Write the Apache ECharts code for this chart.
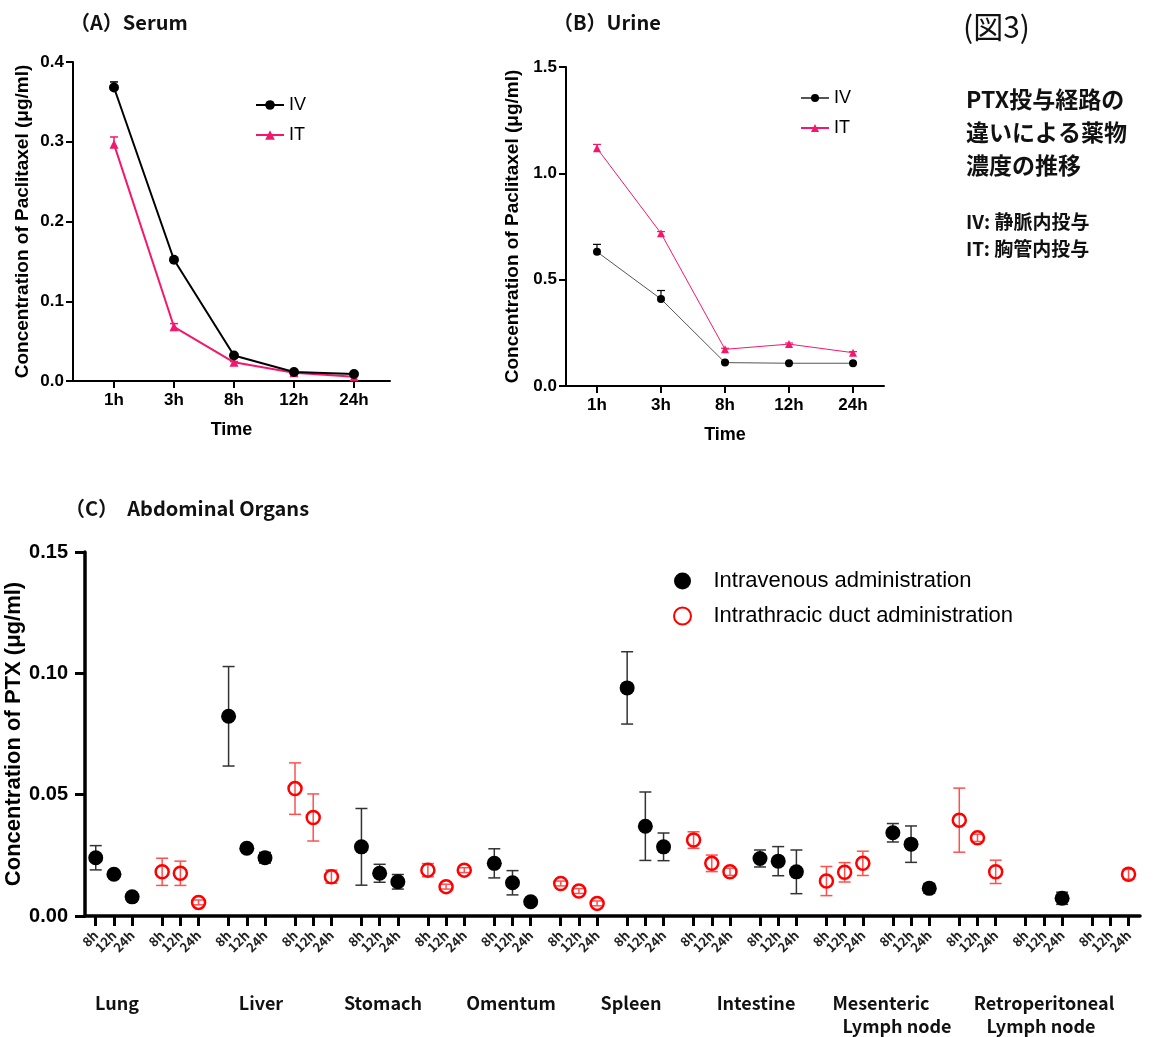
<!DOCTYPE html>
<html><head><meta charset="utf-8">
<script src="https://cdn.jsdelivr.net/npm/echarts@6/dist/echarts.min.js"></script>
<style>html,body{margin:0;padding:0;background:#fff}#c{width:1165px;height:1037px}</style>
</head><body><div id="c"></div>
<script>
// ---------- data ----------
const timesAB = ['1h','3h','8h','12h','24h'];
const serumIV    = [0.368, 0.152, 0.032, 0.0113, 0.0088];
const serumIVErr = [0.007, 0.002, 0.001, 0.001, 0.001];
const serumIT    = [0.297, 0.068, 0.0234, 0.0104, 0.0054];
const serumITErr = [0.009, 0.004, 0.001, 0.001, 0.001];
const urineIV    = [0.631, 0.409, 0.110, 0.107, 0.107];
const urineIVErr = [0.035, 0.040, 0.004, 0.003, 0.003];
const urineIT    = [1.118, 0.718, 0.1725, 0.197, 0.1566];
const urineITErr = [0.018, 0.008, 0.005, 0.005, 0.005];

const organs = ['Lung','Liver','Stomach','Omentum','Spleen','Intestine','Mesenteric Lymph node','Retroperitoneal Lymph node'];
const organTimes = ['8h','12h','24h'];
const ivMean = [
  [0.0240, 0.0172, 0.0079],
  [0.0823, 0.0279, 0.0240],
  [0.0285, 0.0176, 0.0141],
  [0.0217, 0.0137, 0.0059],
  [0.0940, 0.0370, 0.0285],
  [0.0237, 0.0226, 0.0182],
  [0.0343, 0.0296, 0.0114],
  [null, null, 0.0073]
];
const ivErr = [
  [0.0050, 0.0008, 0.0008],
  [0.0205, 0.0010, 0.0022],
  [0.0158, 0.0037, 0.0030],
  [0.0060, 0.0050, 0.0008],
  [0.0149, 0.0141, 0.0057],
  [0.0035, 0.0060, 0.0090],
  [0.0038, 0.0075, 0.0020],
  [null, null, 0.0025]
];
const itMean = [
  [0.0182, 0.0176, 0.0056],
  [0.0525, 0.0406, 0.0162],
  [0.0189, 0.0121, 0.0189],
  [0.0134, 0.0103, 0.0052],
  [0.0313, 0.0217, 0.0182],
  [0.0144, 0.0180, 0.0217],
  [0.0395, 0.0322, 0.0182],
  [null, null, 0.0172]
];
const itErr = [
  [0.0056, 0.0050, 0.0010],
  [0.0106, 0.0097, 0.0027],
  [0.0027, 0.0010, 0.0010],
  [0.0010, 0.0010, 0.0010],
  [0.0034, 0.0034, 0.0015],
  [0.0060, 0.0040, 0.0050],
  [0.0132, 0.0015, 0.0048],
  [null, null, 0.0020]
];

// ---------- helpers ----------
const SPAN = 3.65; // axis units between starts of neighbouring 3-tick groups
const tickPos = [], tickLab = [];
for (let g = 0; g < organs.length * 2; g++) {
  for (let t = 0; t < 3; t++) { tickPos.push(+(g * SPAN + t).toFixed(3)); tickLab.push(organTimes[t]); }
}
function organPoints(mean, err, route) {
  const pts = [], errs = [];
  mean.forEach((row, o) => row.forEach((v, t) => {
    if (v == null) return;
    const x = +((2 * o + route) * SPAN + t).toFixed(3);
    pts.push([x, v]);
    errs.push([x, v, err[o][t]]);
  }));
  return { pts, errs };
}
const ivC = organPoints(ivMean, ivErr, 0);
const itC = organPoints(itMean, itErr, 1);

const ab = arr => arr.map((v, i) => [i, v]);
const abErr = (arr, e) => arr.map((v, i) => [i, v, e[i]]);

function errRender(color, hw, lw, upperOnly) {
  return function (params, api) {
    const x = api.value(0), m = api.value(1), e = api.value(2);
    const top = api.coord([x, m + e]);
    const bot = api.coord([x, upperOnly ? m : m - e]);
    const st = { stroke: color, lineWidth: lw };
    const ch = [
      { type: 'line', shape: { x1: top[0], y1: top[1], x2: bot[0], y2: bot[1] }, style: st },
      { type: 'line', shape: { x1: top[0] - hw, y1: top[1], x2: top[0] + hw, y2: top[1] }, style: st }
    ];
    if (!upperOnly) ch.push({ type: 'line', shape: { x1: bot[0] - hw, y1: bot[1], x2: bot[0] + hw, y2: bot[1] }, style: st });
    return { type: 'group', children: ch };
  };
}

const LAT = 'Liberation Sans, Arial, sans-serif';
const JP = 'Noto Sans CJK JP, sans-serif';
const PINK = '#f5176c';

function abX(gi, minV, maxV) {
  return {
    type: 'value', gridIndex: gi, min: minV, max: maxV,
    name: 'Time', nameLocation: 'middle', nameGap: 40, nameMoveOverlap: false,
    nameTextStyle: { fontFamily: LAT, fontWeight: 'bold', fontSize: 18, color: '#000' },
    axisLine: { show: true, onZero: false, lineStyle: { color: '#000', width: 2 } },
    axisTick: { show: true, length: 7, lineStyle: { color: '#000', width: 2 }, customValues: [0,1,2,3,4] },
    axisLabel: { customValues: [0,1,2,3,4], showMinLabel: true, showMaxLabel: true, formatter: v => timesAB[Math.round(v)], fontFamily: LAT, fontWeight: 'bold', fontSize: 17, color: '#000', margin: 11 },
    splitLine: { show: false }
  };
}
function abY(gi, maxV, iv, dec, gap) {
  return {
    type: 'value', gridIndex: gi, min: 0, max: maxV, interval: iv,
    name: 'Concentration of Paclitaxel (μg/ml)', nameLocation: 'middle', nameGap: gap, nameMoveOverlap: false,
    nameTextStyle: { fontFamily: LAT, fontWeight: 'bold', fontSize: 19, color: '#000' },
    axisLine: { show: true, onZero: false, lineStyle: { color: '#000', width: 2 } },
    axisTick: { show: true, length: 7, lineStyle: { color: '#000', width: 2 } },
    axisLabel: { formatter: v => v.toFixed(dec), fontFamily: LAT, fontWeight: 'bold', fontSize: 17, color: '#000', margin: 9 },
    splitLine: { show: false }
  };
}

const texts = [
  { x: 70, y: 22, t: '（A）Serum', f: 'bold 20px ' + JP },
  { x: 553, y: 22, t: '（B）Urine', f: 'bold 20px ' + JP },
  { x: 65, y: 508, t: '（C）  Abdominal Organs', f: 'bold 20px ' + JP },
  { x: 963, y: 27, t: '(図3)', f: '30px ' + JP },
  { x: 966, y: 99, t: 'PTX投与経路の', f: 'bold 23px ' + JP },
  { x: 966, y: 132, t: '違いによる薬物', f: 'bold 23px ' + JP },
  { x: 966, y: 165, t: '濃度の推移', f: 'bold 23px ' + JP },
  { x: 966, y: 222, t: 'IV: 静脈内投与', f: 'bold 19px ' + JP },
  { x: 966, y: 249, t: 'IT: 胸管内投与', f: 'bold 19px ' + JP }
];
const organLabelPos = [
  [117, 1003, 'Lung'], [261, 1003, 'Liver'], [383, 1003, 'Stomach'], [511, 1003, 'Omentum'],
  [631, 1003, 'Spleen'], [756, 1003, 'Intestine'], [881, 1003, 'Mesenteric'], [897, 1026, 'Lymph node'],
  [1044, 1003, 'Retroperitoneal'], [1041, 1026, 'Lymph node']
];
const graphics = texts.map(o => ({
  type: 'text', x: o.x, y: o.y, silent: true,
  style: { text: o.t, font: o.f, fill: '#111', verticalAlign: 'middle' }
}));
organLabelPos.forEach(p => graphics.push({
  type: 'text', x: p[0], y: p[1], silent: true,
  style: { text: p[2], font: 'bold 18px ' + JP, fill: '#111', align: 'center', verticalAlign: 'middle' }
}));

const chart = echarts.init(document.getElementById('c'), null, { renderer: 'canvas' });
chart.setOption({
  animation: false,
  backgroundColor: '#fff',
  graphic: graphics,
  grid: [
    { left: 73, top: 62, width: 317, height: 319, outerBoundsMode: 'none', containLabel: false },
    { left: 566, top: 67, width: 318, height: 319, outerBoundsMode: 'none', containLabel: false },
    { left: 85, top: 552, width: 1055, height: 364, outerBoundsMode: 'none', containLabel: false }
  ],
  legend: [
    { data: ['IV', 'IT'], left: 250, top: 91, orient: 'vertical', itemGap: 12, itemWidth: 28, itemHeight: 12,
      textStyle: { fontFamily: LAT, fontSize: 18, color: '#000' } },
    { data: ['IV(B)', 'IT(B)'], left: 795, top: 84, orient: 'vertical', itemGap: 12, itemWidth: 28, itemHeight: 10,
      formatter: n => n.replace('(B)', ''), textStyle: { fontFamily: LAT, fontSize: 18, color: '#000' } },
    { data: ['Intravenous administration', 'Intrathracic duct administration'], left: 668, top: 565, orient: 'vertical',
      itemGap: 13, itemWidth: 36, itemHeight: 17, textStyle: { fontFamily: LAT, fontSize: 22, color: '#000', padding: [0,0,0,8] } }
  ],
  xAxis: [
    abX(0, -0.683, 4.6),
    abX(1, -0.484, 4.484),
    {
      type: 'value', gridIndex: 2, min: -0.59, max: 57.38,
      axisLine: { show: true, onZero: false, lineStyle: { color: '#000', width: 3.5 } },
      axisTick: { show: true, length: 10, lineStyle: { color: '#000', width: 3 }, customValues: tickPos },
      axisLabel: { customValues: tickPos, showMinLabel: true, showMaxLabel: true, hideOverlap: false, rotate: 45, margin: 17, fontFamily: JP, fontWeight: 'bold', fontSize: 13, color: '#222',
        formatter: v => { let k = 0, d = 1e9; tickPos.forEach((p, i) => { if (Math.abs(p - v) < d) { d = Math.abs(p - v); k = i; } }); return tickLab[k]; } },
      splitLine: { show: false }
    }
  ],
  yAxis: [
    abY(0, 0.4, 0.1, 1, 41),
    abY(1, 1.5, 0.5, 1, 44),
    {
      type: 'value', gridIndex: 2, min: 0, max: 0.15, interval: 0.05,
      name: 'Concentration of PTX (μg/ml)', nameLocation: 'middle', nameGap: 60, nameMoveOverlap: false,
      nameTextStyle: { fontFamily: LAT, fontWeight: 'bold', fontSize: 22, color: '#000' },
      axisLine: { show: true, onZero: false, lineStyle: { color: '#000', width: 3.5 } },
      axisTick: { show: true, length: 10, lineStyle: { color: '#000', width: 3 } },
      axisLabel: { formatter: v => v.toFixed(2), fontFamily: LAT, fontWeight: 'bold', fontSize: 20, color: '#000', margin: 17 },
      splitLine: { show: false }
    }
  ],
  series: [
    // Panel A
    { type: 'custom', xAxisIndex: 0, yAxisIndex: 0, renderItem: errRender('#000', 4, 1.5, true), data: abErr(serumIV, serumIVErr), encode: { x: 0, y: 1 }, z: 1, silent: true },
    { type: 'custom', xAxisIndex: 0, yAxisIndex: 0, renderItem: errRender(PINK, 4, 1.5, true), data: abErr(serumIT, serumITErr), encode: { x: 0, y: 1 }, z: 1, silent: true },
    { name: 'IV', type: 'line', xAxisIndex: 0, yAxisIndex: 0, data: ab(serumIV), symbol: 'circle', symbolSize: 10,
      lineStyle: { color: '#000', width: 2 }, itemStyle: { color: '#000' }, z: 3 },
    { name: 'IT', type: 'line', xAxisIndex: 0, yAxisIndex: 0, data: ab(serumIT), symbol: 'triangle', symbolSize: 9,
      lineStyle: { color: PINK, width: 2 }, itemStyle: { color: PINK }, z: 2 },
    // Panel B
    { type: 'custom', xAxisIndex: 1, yAxisIndex: 1, renderItem: errRender('#000', 4, 1.2, true), data: abErr(urineIV, urineIVErr), encode: { x: 0, y: 1 }, z: 1, silent: true },
    { type: 'custom', xAxisIndex: 1, yAxisIndex: 1, renderItem: errRender(PINK, 4, 1.2, true), data: abErr(urineIT, urineITErr), encode: { x: 0, y: 1 }, z: 1, silent: true },
    { name: 'IV(B)', type: 'line', xAxisIndex: 1, yAxisIndex: 1, data: ab(urineIV), symbol: 'circle', symbolSize: 8,
      lineStyle: { color: '#555', width: 1 }, itemStyle: { color: '#000' }, z: 3 },
    { name: 'IT(B)', type: 'line', xAxisIndex: 1, yAxisIndex: 1, data: ab(urineIT), symbol: 'triangle', symbolSize: 8,
      lineStyle: { color: PINK, width: 1 }, itemStyle: { color: PINK }, z: 2 },
    // Panel C
    { type: 'custom', xAxisIndex: 2, yAxisIndex: 2, renderItem: errRender('#333', 6, 1.5, false), data: ivC.errs, encode: { x: 0, y: 1 }, z: 1, silent: true },
    { type: 'custom', xAxisIndex: 2, yAxisIndex: 2, renderItem: errRender('#ff5050', 6, 1.5, false), data: itC.errs, encode: { x: 0, y: 1 }, z: 1, silent: true },
    { name: 'Intravenous administration', type: 'scatter', xAxisIndex: 2, yAxisIndex: 2, data: ivC.pts,
      symbol: 'circle', symbolSize: 15, itemStyle: { color: '#000', opacity: 1 }, z: 3 },
    { name: 'Intrathracic duct administration', type: 'scatter', xAxisIndex: 2, yAxisIndex: 2, data: itC.pts,
      symbol: 'circle', symbolSize: 13, itemStyle: { color: 'rgba(255,255,255,0)', borderColor: '#ff0000', borderWidth: 2.5, opacity: 1 }, z: 3 }
  ]
});
</script></body></html>
